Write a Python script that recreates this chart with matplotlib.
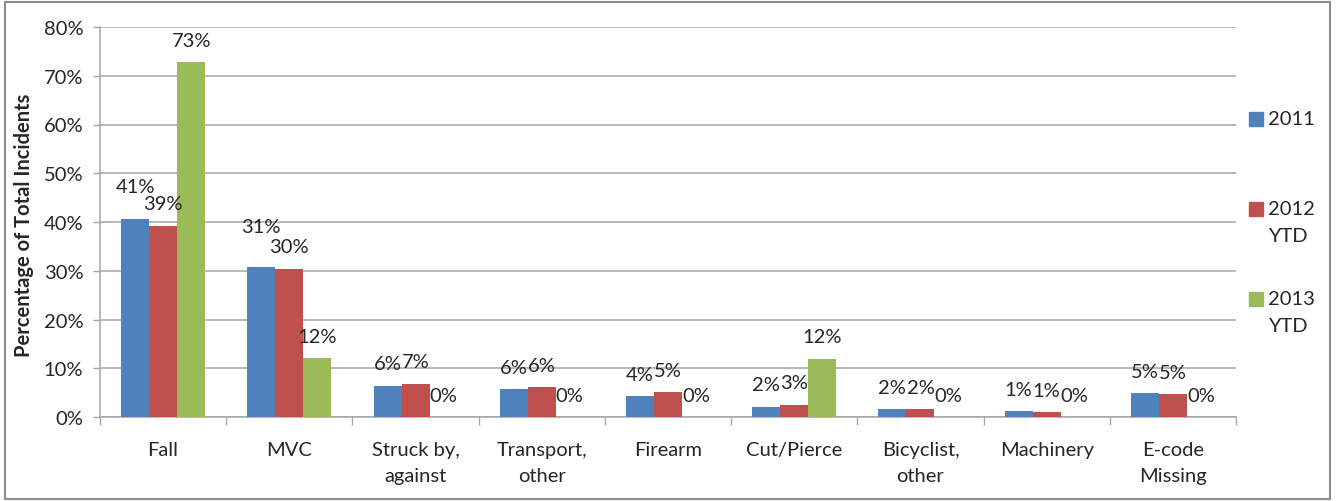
import matplotlib
matplotlib.use("Agg")
import matplotlib.pyplot as plt
import numpy as np
from matplotlib.patches import Rectangle

categories = ["Fall", "MVC", "Struck by,\nagainst", "Transport,\nother", "Firearm",
              "Cut/Pierce", "Bicyclist,\nother", "Machinery", "E-code\nMissing"]
series_names = ["2011", "2012\nYTD", "2013\nYTD"]
v2011 = [40.6, 30.8, 6.4, 5.7, 4.3, 2.1, 1.6, 1.2, 4.9]
v2012 = [39.2, 30.4, 6.8, 6.1, 5.1, 2.55, 1.6, 1.0, 4.7]
v2013 = [72.8, 12.1, 0.0, 0.0, 0.0, 12.0, 0.0, 0.0, 0.0]
yticks = [0, 10, 20, 30, 40, 50, 60, 70, 80]

colors = ["#4F81BD", "#C0504D", "#9BBB59"]
txt = "#262626"
fs = 14.5
plt.rcParams['font.family'] = ['Lato', 'DejaVu Sans']

fig = plt.figure(figsize=(13.36, 5.02), dpi=100)
ax = fig.add_axes([100/1336, 1-418/502, 1136/1336, 390/502])

x = np.arange(len(categories))
w = 0.222
allv = [v2011, v2012, v2013]
# extra label lift (pixels) where Excel pushed labels up to avoid overlap
extra = {(0, 0): 11, (0, 1): 18}
for i, (vals, c) in enumerate(zip(allv, colors)):
    xs = x + (i - 1) * w
    ax.bar(xs, vals, width=w, color=c, zorder=3)
    for j, (xx, v) in enumerate(zip(xs, vals)):
        off = 22 + extra.get((i, j), 0)
        ax.annotate(f"{v:.0f}%", (xx, v), xytext=(0, off), textcoords="offset pixels",
                    ha="center", va="center", fontsize=fs, color=txt, zorder=4)

ax.set_xlim(-0.5, len(categories) - 0.5)
ax.set_ylim(0, 80)
ax.set_yticks(yticks)
ax.set_yticklabels([f"{t}%" for t in yticks], fontsize=fs, color=txt)
ax.yaxis.grid(True, color="#a6a6a6", lw=1.1, zorder=0)
ax.set_xticks(x)
ax.set_xticklabels(categories, fontsize=fs, color=txt, linespacing=1.7, va="top")
ax.set_xticks(np.arange(len(categories) + 1) - 0.5, minor=True)
ax.tick_params(axis="x", which="major", length=0, pad=17)
ax.tick_params(axis="x", which="minor", length=6, width=1, color="#a6a6a6", direction="out")
ax.tick_params(axis="y", length=5, width=1, color="#a6a6a6", pad=7)
for s in ["top", "right"]:
    ax.spines[s].set_visible(False)
for s in ["left", "bottom"]:
    ax.spines[s].set_color("#a6a6a6")
    ax.spines[s].set_linewidth(1.1)

fig.text(24/1336, 1-225/502, "Percentage of Total Incidents", rotation=90,
         ha="center", va="center", fontsize=14.5, fontweight="bold", color=txt)

# legend drawn manually (square aligned to first line)
leg_y = [120, 210, 300]
for name, c, yy in zip(series_names, colors, leg_y):
    fig.add_artist(Rectangle(((1249)/1336, 1-(yy+7)/502), 14/1336, 14/502,
                             transform=fig.transFigure, color=c))
    fig.text(1268/1336, 1-(yy-9)/502, name, ha="left", va="top", fontsize=fs,
             color=txt, linespacing=1.7)

fig.add_artist(Rectangle((5/1336, 2/502), 1325/1336, 497/502, transform=fig.transFigure,
                         fill=False, edgecolor="#8c8c8c", lw=1.5))

fig.savefig("out.png", dpi=100)
